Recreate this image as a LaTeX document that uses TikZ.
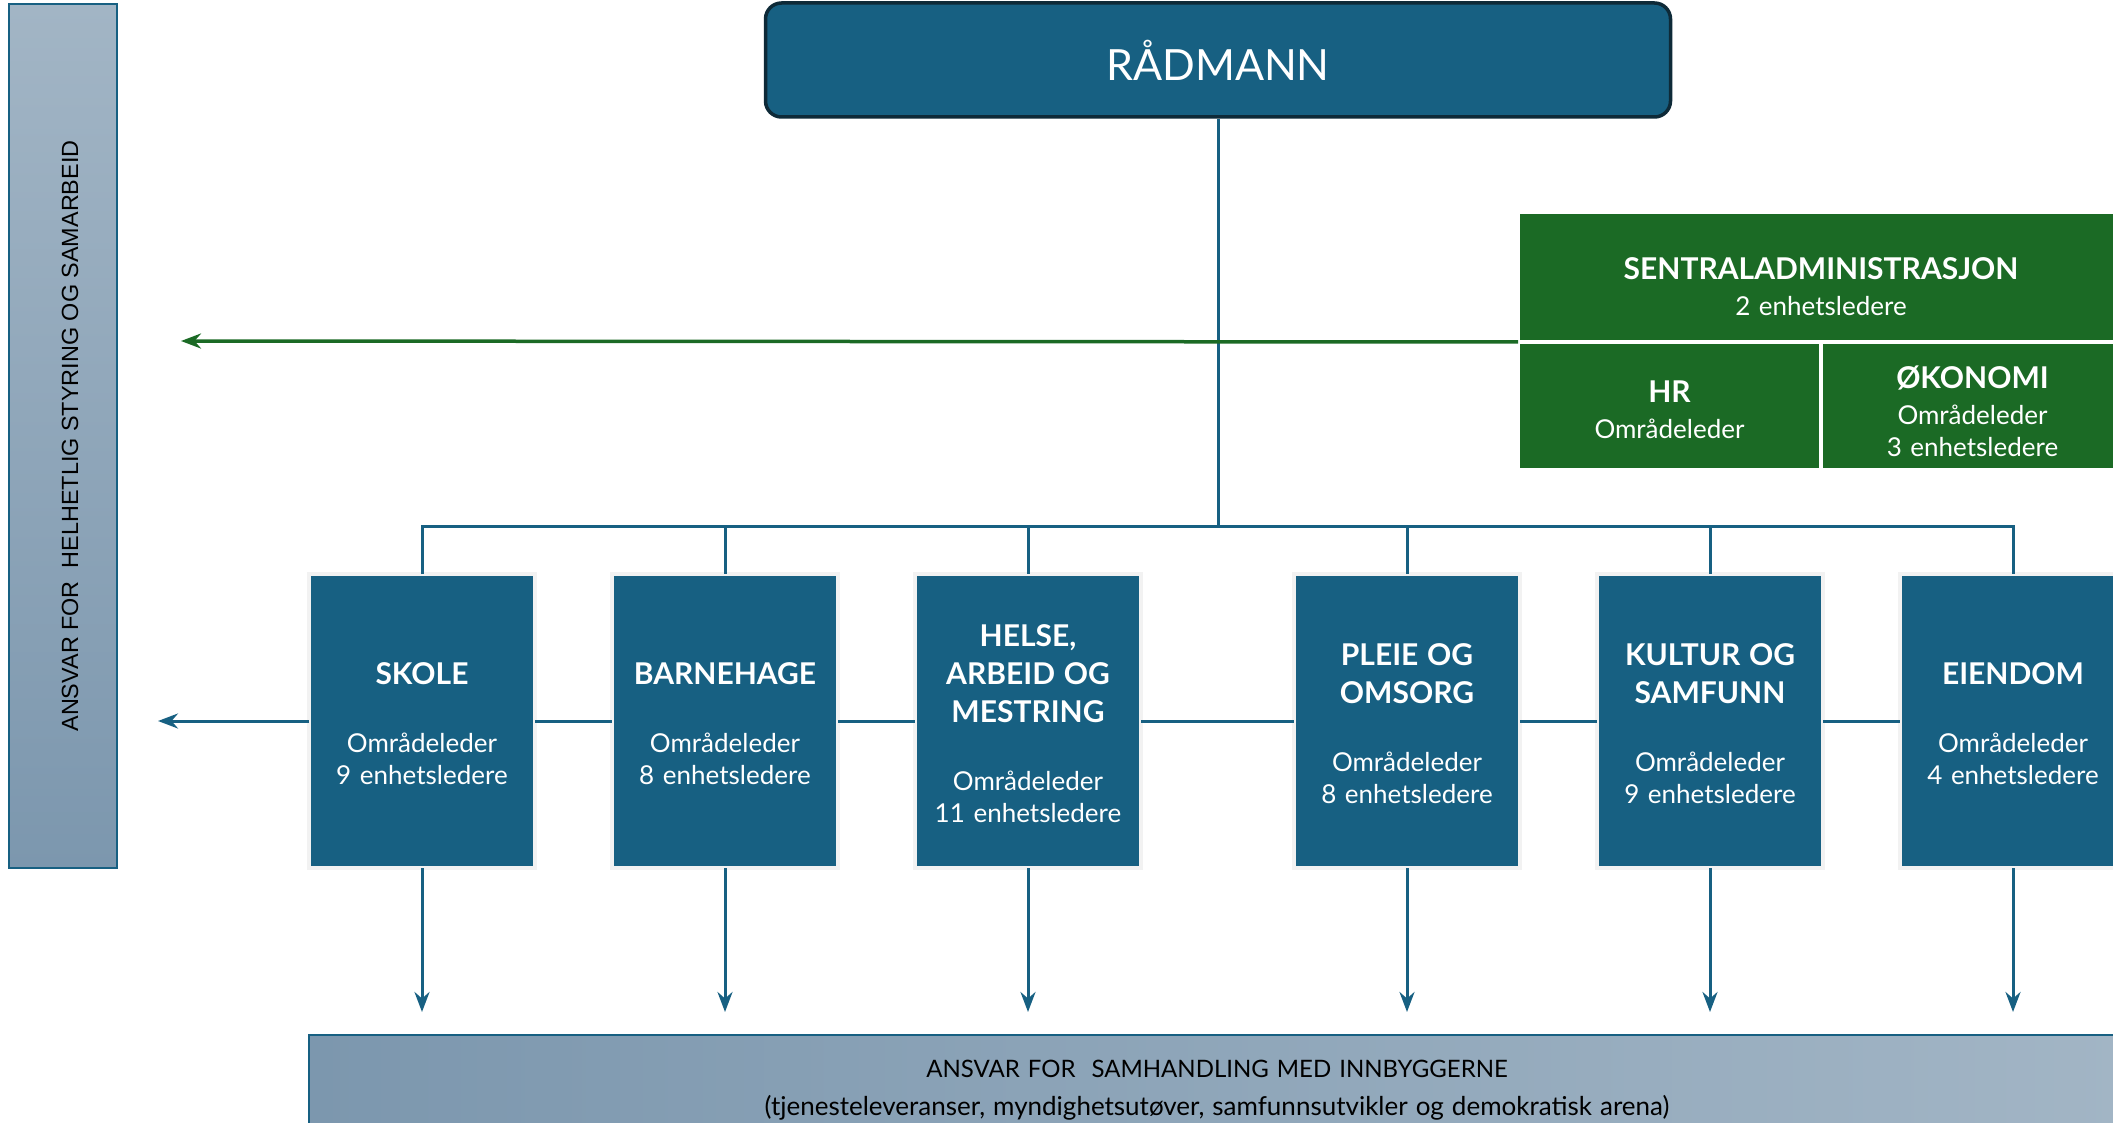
\documentclass[tikz,border=0pt]{standalone}
\usepackage{fontspec}
\setmainfont{Lato}
\newfontfamily\arialfont{Liberation Sans}
\usepackage{xcolor}
\usetikzlibrary{positioning,arrows.meta}

\definecolor{kblue}{RGB}{23,96,130}
\definecolor{kdark}{RGB}{14,42,56}
\definecolor{kgreen}{RGB}{27,106,37}
\definecolor{kframe}{RGB}{242,242,242}
\definecolor{bandlow}{RGB}{124,151,174}
\definecolor{bandhigh}{RGB}{162,181,197}

\newcommand{\enhet}[2]{\par\vspace*{-10pt}\fontsize{30}{38}\selectfont\bfseries #1\\[36pt]\fontsize{26}{32}\selectfont\mdseries #2}
\newcommand{\adm}[3][0pt]{\par\vspace*{#1}\fontsize{30}{38}\selectfont\bfseries #2\\[4pt]\fontsize{26}{32}\selectfont\mdseries #3}

\begin{document}
\begin{tikzpicture}[->,>={Stealth[length=20pt,width=15pt]},x=1pt,y=-1pt,node distance=303pt]
\tikzstyle{unit}=[fill=kblue, draw=kframe, line width=4pt, text=white, minimum width=226pt, minimum height=294pt, text width=218pt, align=center, outer sep=0pt, font=\fontsize{26}{32}\selectfont]
\tikzstyle{admbox}=[fill=kgreen, draw=white, line width=4pt, text=white, minimum height=128pt, text width=290pt, align=center, outer sep=0pt, font=\fontsize{26}{32}\selectfont]
\tikzstyle{band}=[draw=kblue, line width=2.5pt, inner sep=0pt]
\tikzstyle{linje}=[-, draw=kblue, line width=3pt]
\tikzstyle{pil}=[->, draw=kblue, line width=3pt]
\useasboundingbox (0,0) rectangle (2113,1123);

\node[fill=kblue, draw=kdark, line width=3.5pt, rounded corners=16pt, minimum width=905pt, minimum height=114pt, text=white, font=\fontsize{43}{50}\selectfont] (radmann) at (1218,60) {RÅDMANN};

\node[band, top color=bandhigh, bottom color=bandlow, minimum width=108pt, minimum height=864pt] (styring) at (63,436) {};
\node[rotate=90, font=\arialfont\fontsize{23.4}{28}\selectfont] (styringtekst) at ([xshift=7pt]styring.center) {ANSVAR FOR~ HELHETLIG STYRING OG SAMARBEID};

\node[admbox, minimum width=606pt, minimum height=130pt, text width=590pt] (sentral) at (1821,277) {\adm[4pt]{SENTRALADMINISTRASJON}{2 enhetsledere}};
\node[admbox, minimum width=303pt] (hr) at (1669.5,406) {\adm[-9pt]{HR}{Områdeleder}};
\node[admbox, minimum width=303pt] (okonomi) [right of=hr] {\adm[-4pt]{ØKONOMI}{Områdeleder\\3 enhetsledere}};

\node[unit] (skole) at (422,721) {\enhet{SKOLE}{Områdeleder\\9 enhetsledere}};
\node[unit] (barnehage) [right of=skole] {\enhet{BARNEHAGE}{Områdeleder\\8 enhetsledere}};
\node[unit] (helse) [right of=barnehage] {\enhet{HELSE,\\ARBEID OG\\MESTRING}{Områdeleder\\11 enhetsledere}};
\node[unit] (pleie) [right of=helse, xshift=76pt] {\enhet{PLEIE OG\\OMSORG}{Områdeleder\\8 enhetsledere}};
\node[unit] (kultur) [right of=pleie] {\enhet{KULTUR OG\\SAMFUNN}{Områdeleder\\9 enhetsledere}};
\node[unit] (eiendom) [right of=kultur] {\enhet{EIENDOM}{Områdeleder\\4 enhetsledere}};

\node[band, left color=bandlow, right color=bandhigh, minimum width=1816pt, minimum height=110pt, text width=1700pt, align=center, font=\fontsize{24}{38}\selectfont] (samhandling) at (1217,1090) {ANSVAR FOR~ SAMHANDLING MED INNBYGGERNE\\\fontsize{26}{38}\selectfont(tjenesteleveranser, myndighetsutøver, samfunnsutvikler og demokratisk arena)};

\coordinate (bus) at (1218,526);
\coordinate (venstrepil) at (158,721);
\coordinate (gronnpil) at (181,341);
\coordinate (nedpil) at (0,1012);

\draw[linje] (radmann.south) -- (radmann.south |- bus);
\draw[linje] (skole.north) -- (skole.north |- bus) -- (eiendom.north |- bus) -- (eiendom.north);
\foreach \u in {barnehage,helse,pleie,kultur}
  \draw[linje] (\u.north |- bus) -- (\u.north);
\foreach \a/\b in {skole/barnehage,barnehage/helse,helse/pleie,pleie/kultur,kultur/eiendom}
  \draw[linje] (\a.east) -- (\b.west);
\draw[pil] (skole.west) -- (venstrepil);
\foreach \u in {skole,barnehage,helse,pleie,kultur,eiendom}
  \draw[pil] (\u.south) -- (\u.south |- nedpil);
\draw[pil, draw=kgreen, line width=3.5pt] (sentral.south west) -- (gronnpil);
\end{tikzpicture}
\end{document}
